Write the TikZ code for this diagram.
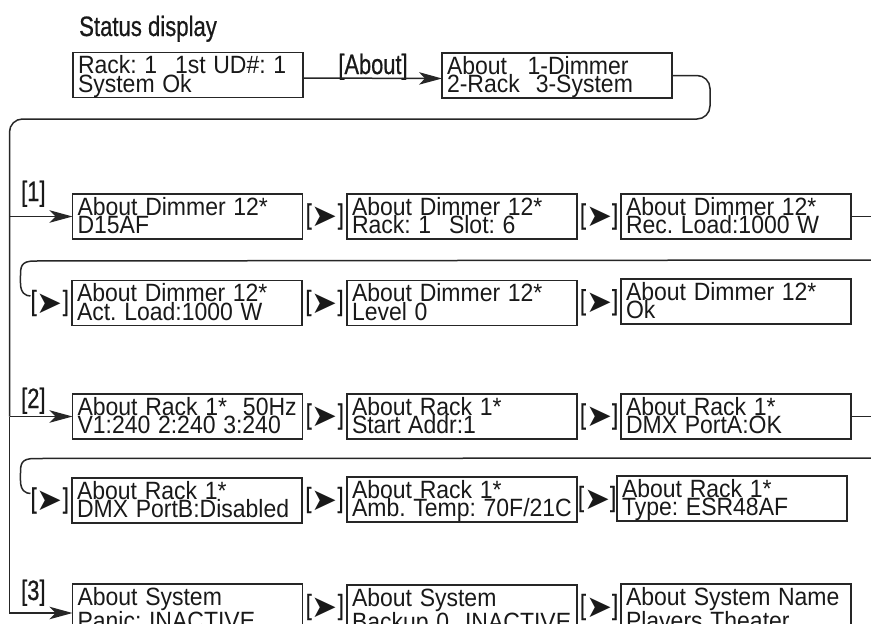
\documentclass[tikz,border=0pt]{standalone}
\usepackage{fontspec}
\setmainfont{Liberation Sans}
\newfontfamily\symfont{DejaVu Sans}
\newfontfamily\cndfont[FakeBold=0.7]{Liberation Sans}
\usepackage{graphicx}
\usetikzlibrary{arrows.meta,calc}
\newcommand\cnd[1]{\scalebox{0.78}[1]{#1}}
\newcommand\nxtsym{\cnd{[}\raisebox{-3pt}{\symfont\fontsize{31}{31}\selectfont ➤}\cnd{]}}
\newcommand\lcdfont{\fontsize{25}{18.5}\selectfont\frenchspacing}
\newcommand\lcdline[1]{\scalebox{0.92}[1]{#1}}
\newcommand\lcdtxt[2]{\lcdline{#1}\\\lcdline{#2}}
\begin{document}
\begin{tikzpicture}[x=1pt,y=-1pt,
  lcd/.style={draw=black!85, line width=1.3pt, anchor=north west,
    minimum width=230pt, minimum height=45pt, inner xsep=5pt, inner ysep=0pt,
    outer sep=0pt, text width=220pt, align=left, font=\lcdfont,
    text height=21pt, text depth=24pt, text=black!90},
  conn/.style={draw=black!85, line width=1.5pt},
  arr/.style={conn, -{Stealth[length=23pt,width=12.5pt,inset=6pt]}},
  lbl/.style={font=\cndfont\fontsize{28}{28}\selectfont, inner sep=0pt, text=black!90}]
\useasboundingbox (0,0) rectangle (871,624);
\clip (0,0) rectangle (871,624);

% title and status
\node[lbl, anchor=base west] (title) at (79,36) {\scalebox{0.79}[1]{Status display}};
\node[lcd] (st) at (73,52.5) {\lcdtxt{Rack: 1\hspace{11pt} 1st UD\#: 1}{System Ok}};
\node[lcd] (ab) at (442,53) {\lcdtxt{About\hspace{14pt} 1-Dimmer}{2-Rack\hspace{9pt} 3-System}};
\node[lbl, anchor=base] (kab) at (373,74) {\cnd{[About]}};

% row 1
\node[lcd] (r1a) at (72.5,194) {\lcdtxt{About Dimmer 12*}{D15AF}};
\node[lcd] (r1b) at (347,194) {\lcdtxt{About Dimmer 12*}{Rack: 1\hspace{11pt} Slot: 6}};
\node[lcd] (r1c) at (621,194) {\lcdtxt{About Dimmer 12*}{Rec. Load:1000 W}};
% row 2
\node[lcd] (r2a) at (72,280.5) {\lcdtxt{About Dimmer 12*}{Act. Load:1000 W}};
\node[lcd] (r2b) at (347,280.5) {\lcdtxt{About Dimmer 12*}{Level 0}};
\node[lcd] (r2c) at (621,279) {\lcdtxt{About Dimmer 12*}{Ok}};
% row 3
\node[lcd] (r3a) at (72.5,394) {\lcdtxt{About Rack 1*\hspace{9pt} 50Hz}{V1:240 2:240 3:240}};
\node[lcd] (r3b) at (347,394) {\lcdtxt{About Rack 1*}{Start Addr:1}};
\node[lcd] (r3c) at (621,394) {\lcdtxt{About Rack 1*}{DMX PortA:OK}};
% row 4
\node[lcd] (r4a) at (72,478) {\lcdtxt{About Rack 1*}{DMX PortB:Disabled}};
\node[lcd] (r4b) at (347,477) {\lcdtxt{About Rack 1*}{Amb. Temp: 70F/21C}};
\node[lcd] (r4c) at (617,476) {\lcdtxt{About Rack 1*}{Type: ESR48AF}};
% row 5
\node[lcd] (r5a) at (72.5,584) {\lcdtxt{About System}{Panic: INACTIVE}};
\node[lcd] (r5b) at (347,585) {\lcdtxt{About System}{Backup 0\hspace{9pt} INACTIVE}};
\node[lcd] (r5c) at (621,584) {\lcdtxt{About System Name}{Players Theater}};

% next labels
\node[lbl] (n1ab) at ($(r1a.east)!0.5!(r1b.west)$) {\nxtsym};
\node[lbl] (n1bc) at ($(r1b.east)!0.5!(r1c.west)$) {\nxtsym};
\node[lbl, anchor=east] (n2s) at ([xshift=-3pt]r2a.west) {\nxtsym};
\node[lbl] (n2ab) at ($(r2a.east)!0.5!(r2b.west)$) {\nxtsym};
\node[lbl] (n2bc) at ($(r2b.east)!0.5!(r2c.west)$) {\nxtsym};
\node[lbl] (n3ab) at ($(r3a.east)!0.5!(r3b.west)$) {\nxtsym};
\node[lbl] (n3bc) at ($(r3b.east)!0.5!(r3c.west)$) {\nxtsym};
\node[lbl, anchor=east] (n4s) at ([xshift=-3pt]r4a.west) {\nxtsym};
\node[lbl] (n4ab) at ($(r4a.east)!0.5!(r4b.west)$) {\nxtsym};
\node[lbl] (n4bc) at ($(r4b.east)!0.5!(r4c.west)$) {\nxtsym};
\node[lbl] (n5ab) at ($(r5a.east)!0.5!(r5b.west)$) {\nxtsym};
\node[lbl] (n5bc) at ($(r5b.east)!0.5!(r5c.west)$) {\nxtsym};

% key labels
\node[lbl, anchor=base west] (k1) at (21,201) {\cnd{[1]}};
\node[lbl, anchor=base west] (k2) at (21,408) {\cnd{[2]}};
\node[lbl, anchor=base west] (k3) at (21,600) {\cnd{[3]}};

% connectors
\draw[arr] ([yshift=-3pt]st.east) -- ([yshift=-3pt]ab.west);
\coordinate (tk) at (9.5,119);
\coordinate (bx) at (710,119);
\draw[conn, rounded corners=13pt] (ab.east) -- (ab.east -| bx) -- (bx) -- (tk) -- (tk |- r3a.west);
\draw[arr] (tk |- r1a.west) -- (r1a.west);
\draw[arr] (tk |- r3a.west) -- (r3a.west);
\draw[arr] (tk |- r3a.west) |- ([yshift=-6.5pt]r5a.west);

\coordinate (re) at (875,0);
\draw[conn] (r1c.east) -- (r1c.east -| re);
\draw[conn] (r3c.east) -- (r3c.east -| re);

\coordinate (w1) at (875,260);
\coordinate (w2) at (875,458);
\draw[conn] (w1) -- ($(n2s.west)+(4,-42)$)
  .. controls ($(n2s.west)+(-10,-42)$) and ($(n2s.west)+(-10,-36)$) .. ($(n2s.west)+(-10,-26)$)
  -- ($(n2s.west)+(-10,-20)$)
  .. controls ($(n2s.west)+(-10,-10)$) and ($(n2s.west)+(-5,-7)$) .. ($(n2s.west)+(0,-7)$);
\draw[conn] (w2) -- ($(n4s.west)+(4,-42)$)
  .. controls ($(n4s.west)+(-10,-42)$) and ($(n4s.west)+(-10,-36)$) .. ($(n4s.west)+(-10,-26)$)
  -- ($(n4s.west)+(-10,-20)$)
  .. controls ($(n4s.west)+(-10,-10)$) and ($(n4s.west)+(-5,-7)$) .. ($(n4s.west)+(0,-7)$);
\end{tikzpicture}
\end{document}
